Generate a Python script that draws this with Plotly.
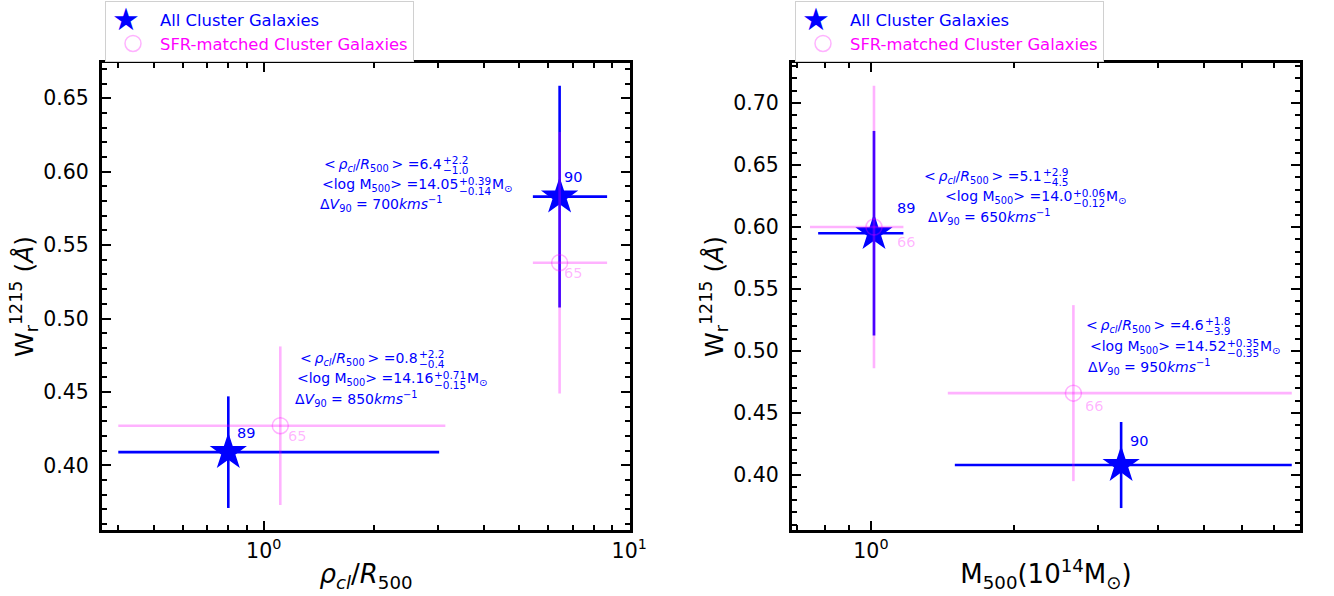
import math
import plotly.graph_objects as go

# ---------------- data ----------------
# Left panel: x = rho_cl / R500
L_ALL_X = [0.80, 6.45]
L_ALL_Y = [0.409, 0.583]
L_ALL_XLO = [0.40, 1.00]
L_ALL_XHI = [2.22, 2.25]
L_ALL_YERR = [0.038, 0.0755]
L_ALL_N = ["89", "90"]

L_SFR_X = [1.11, 6.45]
L_SFR_Y = [0.427, 0.538]
L_SFR_XLO = [0.71, 1.00]
L_SFR_XHI = [2.03, 2.25]
L_SFR_YERR = [0.054, 0.089]
L_SFR_N = ["65", "65"]

# Right panel: x = M500 (1e14 Msun)
R_ALL_X = [1.015, 3.35]
R_ALL_Y = [0.595, 0.408]
R_ALL_XLO = [0.24, 1.85]
R_ALL_XHI = [0.155, 4.29]
R_ALL_YERR = [0.0825, 0.0347]
R_ALL_N = ["89", "90"]

R_SFR_X = [1.015, 2.66]
R_SFR_Y = [0.600, 0.466]
R_SFR_XLO = [0.27, 1.21]
R_SFR_XHI = [0.155, 4.98]
R_SFR_YERR = [0.114, 0.071]
R_SFR_N = ["66", "66"]

# bin statistics text (left-top, left-bottom, right-top, right-bottom)
RHO = ["6.4", "0.8", "5.1", "4.6"]
RHO_HI = ["+2.2", "+2.2", "+2.9", "+1.8"]
RHO_LO = ["−1.0", "−0.4", "−4.5", "−3.9"]
LOGM = ["14.05", "14.16", "14.0", "14.52"]
LOGM_HI = ["+0.39", "+0.71", "+0.06", "+0.35"]
LOGM_LO = ["−0.14", "−0.15", "−0.12", "−0.35"]
DV = ["700", "850", "650", "950"]

LEFT_XTICKS = [1, 10]
LEFT_XTICKTEXT = ["10<sup>0</sup>", "10<sup>1</sup>"]
RIGHT_XTICKS = [1]
RIGHT_XTICKTEXT = ["10<sup>0</sup>"]

LEG_ALL = "All Cluster Galaxies"
LEG_SFR = "SFR-matched Cluster Galaxies"

# ---------------- styles ----------------
W, H = 1334, 596
FONT = "DejaVu Sans"
BLUE = "#0000ff"
MAG = "#ff00ff"
PINK = "rgba(255,0,255,0.3)"

fig = go.Figure()


def add_panel(xa, ya, ax, ay, aylo, ayhi, aye, sx, sy, sxlo, sxhi, sye):
    leg = "legend" if xa == "x" else "legend2"
    fig.add_trace(go.Scatter(
        x=ax, y=ay, mode="markers", xaxis=xa, yaxis=ya, showlegend=False,
        marker=dict(symbol="star", size=28, color=BLUE, line=dict(width=0)),
        error_x=dict(type="data", symmetric=False, array=ayhi, arrayminus=aylo,
                     color=BLUE, thickness=2.6, width=0),
        error_y=dict(type="data", array=aye, color=BLUE, thickness=2.6, width=0),
    ))
    fig.add_trace(go.Scatter(
        x=sx, y=sy, mode="markers", xaxis=xa, yaxis=ya, showlegend=False,
        marker=dict(symbol="circle-open", size=16, color=PINK, line=dict(width=1.5, color=PINK)),
        error_x=dict(type="data", symmetric=False, array=sxhi, arrayminus=sxlo,
                     color=PINK, thickness=2.6, width=0),
        error_y=dict(type="data", array=sye, color=PINK, thickness=2.6, width=0),
    ))
    # legend entries (the large star glyph is drawn as text over the entry)
    fig.add_trace(go.Scatter(
        x=[None], y=[None], mode="markers", xaxis=xa, yaxis=ya, legend=leg,
        name='<span style="color:#0000ff">' + LEG_ALL + '</span>',
        marker=dict(symbol="star", size=16, color="rgba(0,0,0,0)"),
    ))
    fig.add_trace(go.Scatter(
        x=[None], y=[None], mode="markers", xaxis=xa, yaxis=ya, legend=leg,
        name='<span style="color:#ff00ff">' + LEG_SFR + '</span>',
        marker=dict(symbol="circle-open", size=16, color=PINK, line=dict(width=1.5, color=PINK)),
    ))


add_panel("x", "y", L_ALL_X, L_ALL_Y, L_ALL_XLO, L_ALL_XHI, L_ALL_YERR,
          L_SFR_X, L_SFR_Y, L_SFR_XLO, L_SFR_XHI, L_SFR_YERR)
add_panel("x2", "y2", R_ALL_X, R_ALL_Y, R_ALL_XLO, R_ALL_XHI, R_ALL_YERR,
          R_SFR_X, R_SFR_Y, R_SFR_XLO, R_SFR_XHI, R_SFR_YERR)

annotations = []

# point count labels (pixel offsets)
LBL_OFF = {
    ("x", "all"): [(7, -19), (2, -20)],
    ("x", "sfr"): [(6, 10), (2, 10)],
    ("x2", "all"): [(21, -25), (7, -24)],
    ("x2", "sfr"): [(21, 15), (10, 13)],
}
for xa, ya, xs, ys, ns, kind, col in [
    ("x", "y", L_ALL_X, L_ALL_Y, L_ALL_N, "all", BLUE),
    ("x", "y", L_SFR_X, L_SFR_Y, L_SFR_N, "sfr", PINK),
    ("x2", "y2", R_ALL_X, R_ALL_Y, R_ALL_N, "all", BLUE),
    ("x2", "y2", R_SFR_X, R_SFR_Y, R_SFR_N, "sfr", PINK),
]:
    for i, (xv, yv, nv) in enumerate(zip(xs, ys, ns)):
        dx, dy = LBL_OFF[(xa, kind)][i]
        annotations.append(dict(
            x=math.log10(xv), y=yv, xref=xa, yref=ya, text=nv, showarrow=False,
            xanchor="left", yanchor="middle", xshift=dx, yshift=-dy,
            font=dict(family=FONT, size=14.5, color=col)))

# statistics text blocks: x0, line centres, stack x (line1, line2)   [pixels]
BLOCK_POS = [
    (320, (165, 185, 204), 442, 458),
    (295, (359, 379, 399), 418, 433),
    (928, (177, 197, 217), 1042, 1072),
    (1088, (326, 347, 367), 1204, 1226),
]
STACK_SIZE = 10.5
ADV = {"+": 0.838, "−": 0.838, ".": 0.318}


def str_w(s, size):
    return sum(ADV.get(c, 0.636) for c in s) * size


def px(xp):
    return xp / W


def py(yp):
    return 1 - yp / H


def txt(xp, yp, s, size=14, anchor="left", color=BLUE):
    annotations.append(dict(x=px(xp), y=py(yp), xref="paper", yref="paper", text=s,
                            showarrow=False, xanchor=anchor, yanchor="middle",
                            borderpad=0, borderwidth=0,
                            font=dict(family=FONT, size=size, color=color)))


TS = "\u2009"
for k, (x0, ys, s1, s2) in enumerate(BLOCK_POS):
    y1, y2, y3 = ys
    txt(s1, y1, "&lt;" + TS + "<i>ρ<sub>cl</sub></i>/<i>R</i><sub>500</sub>" + TS + "&gt; ="
        + RHO[k], anchor="right")
    txt(s1 + 1, y1 - 5, RHO_HI[k], size=STACK_SIZE)
    txt(s1 + 1, y1 + 5, RHO_LO[k], size=STACK_SIZE)
    txt(s2, y2, "&lt;log M<sub>500</sub>&gt; =" + LOGM[k], anchor="right")
    txt(s2 + 1, y2 - 4, LOGM_HI[k], size=STACK_SIZE)
    txt(s2 + 1, y2 + 6, LOGM_LO[k], size=STACK_SIZE)
    mx = s2 + 2 + max(str_w(LOGM_HI[k], STACK_SIZE), str_w(LOGM_LO[k], STACK_SIZE))
    txt(mx, y2, "M<sub>⊙</sub>")
    txt(x0, y3, "Δ<i>V</i><sub>90</sub> = " + DV[k] + "<i>kms</i><sup>−1</sup>")

# large star glyphs for the legend entries
for lx in (126, 816):
    txt(lx, 19, "★", size=31, anchor="center")

axis_common = dict(
    showline=True, linewidth=3, linecolor="black", mirror="allticks",
    ticks="inside", ticklen=9, tickwidth=2, tickcolor="black",
    showgrid=False, zeroline=False, automargin=False,
    tickfont=dict(family=FONT, size=20.5, color="black"),
)

LEFT_MINOR = [0.4, 0.5, 0.6, 0.7, 0.8, 0.9, 2, 3, 4, 5, 6, 7, 8, 9]
RIGHT_MINOR = [0.7, 0.8, 0.9, 2, 3, 4, 5, 6, 7]

minor_common = dict(ticks="inside", ticklen=5, tickwidth=2, tickcolor="black", showgrid=False)

YTITLE = "W<sub>r</sub><sup>1215</sup> (<i>Å</i>)"

fig.update_layout(
    width=W, height=H, margin=dict(l=0, r=0, t=0, b=0, autoexpand=False),
    paper_bgcolor="white", plot_bgcolor="white",
    font=dict(family=FONT, color="black"),
    annotations=annotations,
    xaxis=dict(axis_common, type="log", domain=[102 / W, 630 / W],
               range=[math.log10(0.361), math.log10(10.05)],
               tickmode="array", tickvals=LEFT_XTICKS, ticktext=LEFT_XTICKTEXT,
               minor=dict(minor_common, tickmode="array", tickvals=LEFT_MINOR),
               anchor="y",
               title=dict(text="<i>ρ<sub>cl</sub></i>/<i>R</i><sub>500</sub>",
                          font=dict(family=FONT, size=26), standoff=4)),
    yaxis=dict(axis_common, domain=[1 - 530 / H, 1 - 63 / H], range=[0.356, 0.674],
               tick0=0.4, dtick=0.05, tickformat=".2f", ticklabelstandoff=6,
               minor=dict(minor_common, dtick=0.01, tick0=0.4),
               anchor="x",
               title=dict(text=YTITLE, font=dict(family=FONT, size=25), standoff=3)),
    xaxis2=dict(axis_common, type="log", domain=[792 / W, 1300 / W],
                range=[math.log10(0.683), math.log10(7.95)],
                tickmode="array", tickvals=RIGHT_XTICKS, ticktext=RIGHT_XTICKTEXT,
                minor=dict(minor_common, tickmode="array", tickvals=RIGHT_MINOR),
                anchor="y2",
                title=dict(text="M<sub>500</sub>(10<sup>14</sup>M<sub>⊙</sub>)",
                           font=dict(family=FONT, size=26), standoff=4)),
    yaxis2=dict(axis_common, domain=[1 - 530 / H, 1 - 63 / H], range=[0.3556, 0.7323],
                tick0=0.4, dtick=0.05, tickformat=".2f", ticklabelstandoff=6,
                minor=dict(minor_common, dtick=0.01, tick0=0.4),
                anchor="x2",
                title=dict(text=YTITLE, font=dict(family=FONT, size=25), standoff=3)),
    legend=dict(x=105 / W, y=1 - 1 / H, xanchor="left", yanchor="top",
                bgcolor="white", bordercolor="#d0d0d0", borderwidth=1,
                font=dict(family=FONT, size=16.4), tracegroupgap=0, itemwidth=44),
    legend2=dict(x=795 / W, y=1 - 1 / H, xanchor="left", yanchor="top",
                 bgcolor="white", bordercolor="#d0d0d0", borderwidth=1,
                 font=dict(family=FONT, size=16.4), tracegroupgap=0, itemwidth=44),
)

fig.write_html("out.html", config={"displayModeBar": False},
               post_script="document.body.style.margin='0px';")
